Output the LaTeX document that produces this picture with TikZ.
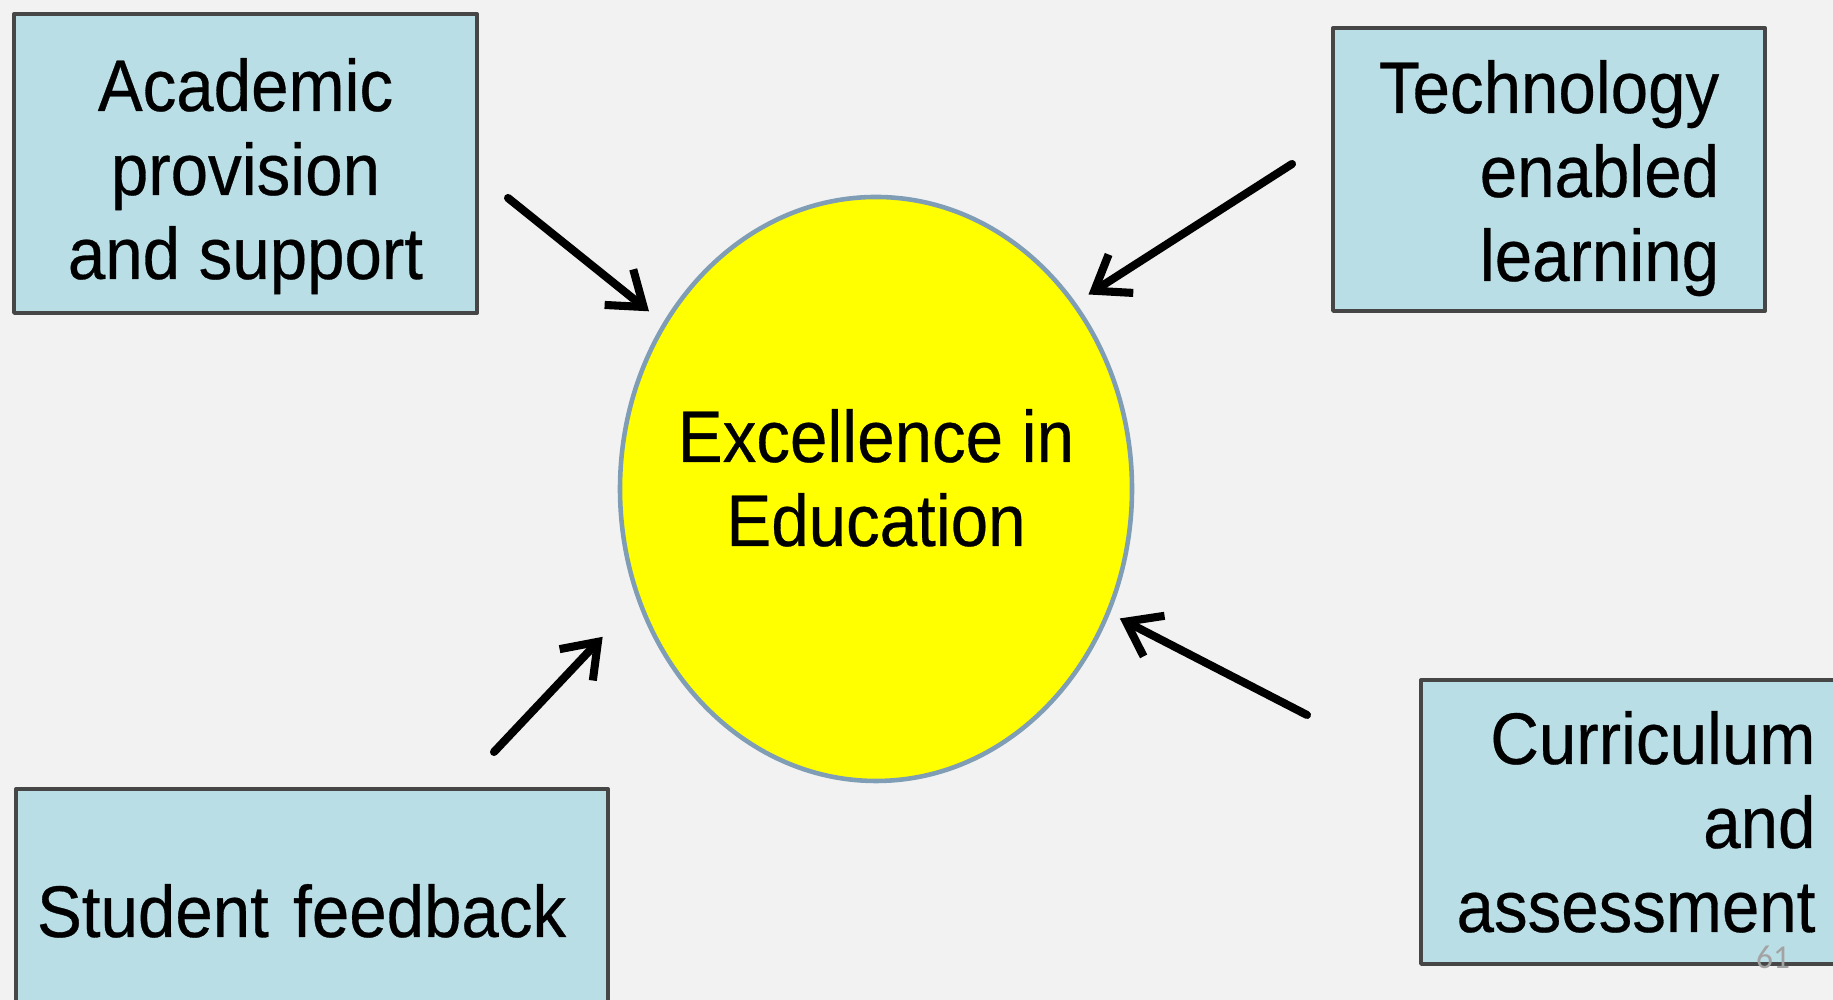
\documentclass[tikz,border=0pt]{standalone}
\usepackage{fontspec}
\setmainfont{Liberation Sans}[FakeStretch=0.92, FakeBold=0.4]
\newfontfamily\seitenfont{Carlito}
\usetikzlibrary{shapes.geometric,arrows.meta}

\definecolor{hintergrund}{HTML}{F2F2F2}
\definecolor{kastenblau}{HTML}{BADEE6}
\definecolor{rahmen}{HTML}{464646}
\definecolor{kreisrand}{HTML}{7F9DB5}
\definecolor{kreisgelb}{RGB}{255,255,0}
\definecolor{seitengrau}{HTML}{A3A3A3}

\begin{document}
\begin{tikzpicture}[>={Straight Barb[length=9pt,width=13pt]}, line cap=round, line join=round,
  schrift/.style={font=\fontsize{20.8}{23.9}\selectfont},
  kasten/.style={schrift, draw=rahmen, line width=1.1pt, fill=kastenblau, inner sep=0pt, text depth=0pt},
  pfeil/.style={->, line width=2.3pt}]

  % Hintergrund und Rahmen der Folie
  \useasboundingbox (0,0) rectangle (18.33,10);
  \fill[hintergrund] (0,0) rectangle (18.33,10);
  \clip (0,0) rectangle (18.33,10);

  % Kasten oben links und oben rechts
  \node[kasten, align=center, minimum width=4.63cm, minimum height=2.99cm, text height=2.31cm]
    (akad) at (2.455,8.365) {Academic\\provision\\and support};
  \node[kasten, align=right, minimum width=4.32cm, minimum height=2.83cm, text height=2.23cm]
    (tech) at (15.49,8.305) {Technology\\enabled\\learning};

  % Kasten unten links und unten rechts
  \node[kasten, align=left, text width=5.5cm, inner xsep=0.21cm, minimum height=2.46cm, text height=0.5cm]
    (feed) at (3.12,0.88) {Student feedback};
  \node[kasten, align=right, minimum width=4.30cm, minimum height=2.84cm, text height=2.2cm]
    (curr) at (16.36,1.78) {Curriculum\\and\\assessment};

  % Ellipse in der Mitte
  \node[ellipse, draw=kreisrand, line width=1.3pt, fill=kreisgelb, minimum width=5.12cm,
    minimum height=5.84cm, inner sep=0pt,
    label={[schrift, align=center, text height=1.14cm, text depth=0pt]center:Excellence in\\Education}]
    (edu) at (8.76,5.11) {};

  % Anfangspunkte der Pfeile
  \coordinate (s1) at (5.08,8.02);
  \coordinate (s2) at (12.92,8.36);
  \coordinate (s3) at (4.94,2.48);
  \coordinate (s4) at (13.07,2.85);

  % Pfeile zur Ellipse
  \draw[pfeil, shorten >=0.18cm] (s1) -- (edu.142);
  \draw[pfeil, shorten >=0.15cm] (s2) -- (edu.43);
  \draw[pfeil, shorten >=0.50cm] (s3) -- (edu.205.7);
  \draw[pfeil, shorten >=0.11cm] (s4) -- (edu.332.1);

  % Seitenzahl
  \node[text=seitengrau, font=\seitenfont\fontsize{9.5}{11}\selectfont] (seite) at (17.73,0.43) {61};

\end{tikzpicture}
\end{document}
